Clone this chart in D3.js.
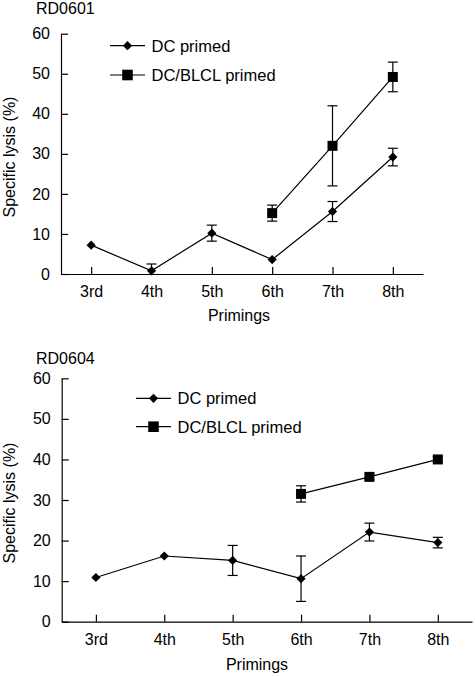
<!DOCTYPE html>
<html><head><meta charset="utf-8">
<script src="https://cdn.jsdelivr.net/npm/d3@7"></script>
<style>body{margin:0;background:#fff}svg{display:block}text{font-family:"Liberation Sans",Arial,sans-serif;fill:#000}</style>
</head><body>
<svg id="c" width="475" height="676"></svg>
<script>
const primings = ["3rd","4th","5th","6th","7th","8th"];
const yTicks = [0,10,20,30,40,50,60];
const seriesNames = ["DC primed","DC/BLCL primed"];
const titles = ["RD0601","RD0604"];
// Panel 1 (RD0601)
const p1DC = [7.2,0.8,10.2,3.6,15.6,29.2];
const p1DCerr = [0,1.7,2.0,0,2.5,2.2];
const p1BLCL = [null,null,null,15.2,32.0,49.2];
const p1BLCLerr = [null,null,null,2.0,10.0,3.7];
// Panel 2 (RD0604)
const p2DC = [10.9,16.2,15.1,10.6,22.1,19.5];
const p2DCerr = [0,0,3.7,5.6,2.2,1.3];
const p2BLCL = [null,null,null,31.5,35.7,40.0];
const p2BLCLerr = [null,null,null,2.0,0.7,0.7];

const svg = d3.select("#c");
const panels = [
  {title:titles[0], dc:p1DC, dce:p1DCerr, bl:p1BLCL, ble:p1BLCLerr,
   left:61, right:423, top:33.7, bottom:274, titleY:14, legX:110, legY:45.7, legGap:29.3,
   ylabY:157, xlabX:239, xlabY:321},
  {title:titles[1], dc:p2DC, dce:p2DCerr, bl:p2BLCL, ble:p2BLCLerr,
   left:61.7, right:472, top:378.3, bottom:621.7, titleY:364, legX:136, legY:398.3, legGap:28.4,
   ylabY:503, xlabX:257, xlabY:670}
];
const diamond = (s)=>`M0,${-s}L${s},0L0,${s}L${-s},0Z`;

panels.forEach(p=>{
  const x = d3.scalePoint().domain(primings).range([p.left,p.right]).padding(0.5);
  const y = d3.scaleLinear().domain([0,60]).range([p.bottom,p.top]);
  const g = svg.append("g");
  g.append("text").attr("x",36).attr("y",p.titleY).attr("font-size",16).text(p.title);

  const ax = g.append("g").attr("transform",`translate(0,${p.bottom})`)
    .call(d3.axisBottom(x).tickSize(-7).tickSizeOuter(0).tickPadding(11.5));
  const ay = g.append("g").attr("transform",`translate(${p.left},0)`)
    .call(d3.axisLeft(y).tickValues(yTicks).tickSize(-7).tickSizeOuter(0).tickPadding(11));
  [ax,ay].forEach(a=>{
    a.selectAll("text").attr("font-size",16).attr("font-family","Liberation Sans, Arial, sans-serif").attr("fill","#000");
    a.selectAll("line,path").attr("stroke","#000").attr("stroke-width",1.2);
  });

  g.append("text").attr("transform",`translate(9.5,${p.ylabY}) rotate(-90)`)
    .attr("text-anchor","middle").attr("font-size",16).attr("dy","0.35em").text("Specific lysis (%)");
  g.append("text").attr("x",p.xlabX).attr("y",p.xlabY).attr("text-anchor","middle")
    .attr("font-size",16).text("Primings");

  const series = [
    {v:p.dc, e:p.dce, type:"d"},
    {v:p.bl, e:p.ble, type:"s"}
  ];
  series.forEach(s=>{
    const pts = primings.map((c,i)=>({c, v:s.v[i], e:s.e[i]})).filter(d=>d.v!=null);
    g.append("path").datum(pts)
      .attr("d",d3.line().x(d=>x(d.c)).y(d=>y(d.v)))
      .attr("fill","none").attr("stroke","#000").attr("stroke-width",1.2);
    pts.filter(d=>d.e>0).forEach(d=>{
      const cx = x(d.c), y1 = y(d.v+d.e), y0 = y(Math.max(0,d.v-d.e));
      g.append("line").attr("x1",cx).attr("x2",cx).attr("y1",y1).attr("y2",y0).attr("stroke","#000").attr("stroke-width",1.2);
      g.append("line").attr("x1",cx-5).attr("x2",cx+5).attr("y1",y1).attr("y2",y1).attr("stroke","#000").attr("stroke-width",1.2);
      if (d.v-d.e>0) g.append("line").attr("x1",cx-5).attr("x2",cx+5).attr("y1",y0).attr("y2",y0).attr("stroke","#000").attr("stroke-width",1.2);
    });
    g.selectAll(null).data(pts).enter().append("path")
      .attr("transform",d=>`translate(${x(d.c)},${y(d.v)})`)
      .attr("d", s.type==="d" ? diamond(4.6) : "M-5,-5H5V5H-5Z")
      .attr("fill","#000");
  });

  // legend
  seriesNames.forEach((n,i)=>{
    const ly = p.legY + i*p.legGap;
    g.append("line").attr("x1",p.legX).attr("x2",p.legX+35).attr("y1",ly).attr("y2",ly).attr("stroke","#000").attr("stroke-width",1.2);
    g.append("path").attr("transform",`translate(${p.legX+17.5},${ly})`)
      .attr("d", i===0 ? diamond(4.6) : "M-5.3,-5.3H5.3V5.3H-5.3Z").attr("fill","#000");
    g.append("text").attr("x",p.legX+41.5).attr("y",ly).attr("dy","0.36em").attr("font-size",16.5).text(n);
  });
});
</script>
</body></html>
